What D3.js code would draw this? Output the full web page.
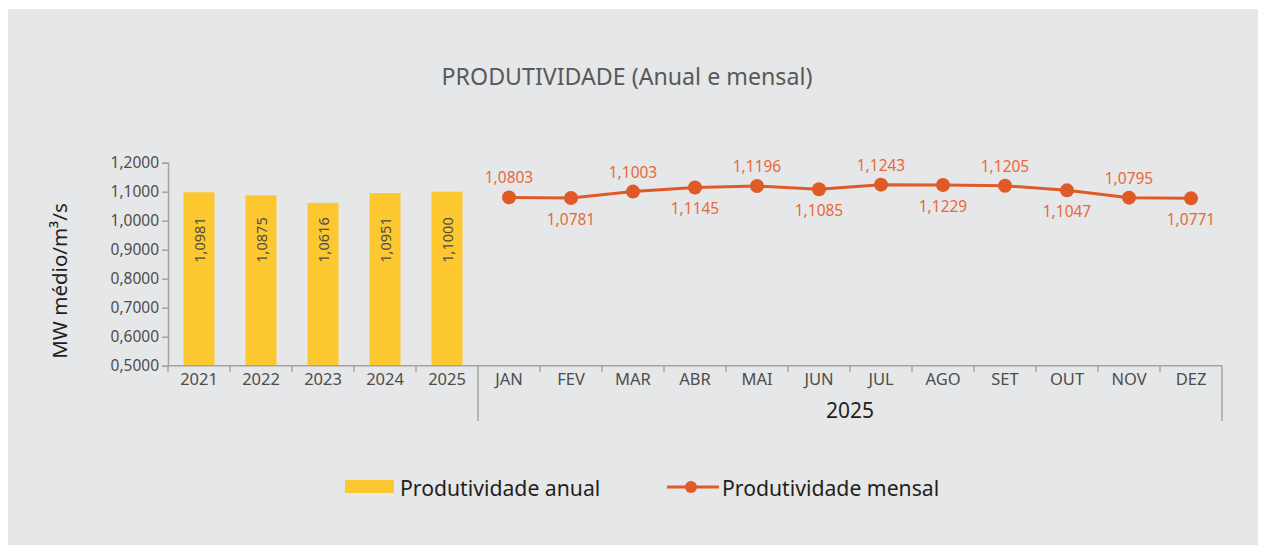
<!DOCTYPE html>
<html>
<head>
    <meta charset="utf-8">
    <script src="https://cdnjs.cloudflare.com/ajax/libs/d3/7.8.5/d3.min.js"></script>
    <style>
        body { margin: 0; background: #ffffff; }
        svg { display: block; font-family: "Noto Sans", sans-serif; }
        .tick-label { fill: #4d4d4d; }
    </style>
</head>
<body>
    <svg id="chart" width="1261" height="547"></svg>

    <script>
        // Data
        const years = ["2021", "2022", "2023", "2024", "2025"];
        const annualValues = [1.0981, 1.0875, 1.0616, 1.0951, 1.1000];
        const months = ["JAN", "FEV", "MAR", "ABR", "MAI", "JUN", "JUL", "AGO", "SET", "OUT", "NOV", "DEZ"];
        const monthlyValues = [1.0803, 1.0781, 1.1003, 1.1145, 1.1196, 1.1085, 1.1243, 1.1229, 1.1205, 1.1047, 1.0795, 1.0771];
        const monthGroupLabel = "2025";
        const yTicks = [0.5, 0.6, 0.7, 0.8, 0.9, 1.0, 1.1, 1.2];

        const barColor = "#fdc82f";
        const lineColor = "#e05a28";
        const axisColor = "#a3a3a3";

        const fmt = v => d3.format(".4f")(v).replace(".", ",");

        const svg = d3.select("#chart");

        // Panel background
        svg.append("rect")
            .attr("x", 8).attr("y", 9)
            .attr("width", 1250).attr("height", 536)
            .attr("fill", "#e6e7e8");

        // Title
        svg.append("text")
            .attr("x", 627).attr("y", 85)
            .attr("text-anchor", "middle")
            .attr("font-size", 23.2)
            .attr("fill", "#58595b")
            .text("PRODUTIVIDADE (Anual e mensal)");

        // Scales
        const keys = years.map(d => "Y" + d).concat(months.map(d => "M" + d));
        const x = d3.scaleBand()
            .domain(keys)
            .range([168, 1222])
            .paddingInner(0.5)
            .paddingOuter(0.25);

        const y = d3.scaleLinear()
            .domain([0.5, 1.2])
            .range([365.7, 162.7]);

        // Y axis
        const yAxis = svg.append("g")
            .attr("transform", "translate(168,0)")
            .call(d3.axisLeft(y).tickValues(yTicks).tickSize(6).tickPadding(3).tickFormat(fmt));
        yAxis.select(".domain").attr("stroke", axisColor).attr("stroke-width", 1.5);
        yAxis.selectAll(".tick line").attr("stroke", axisColor).attr("stroke-width", 1.5);
        yAxis.selectAll(".tick text")
            .attr("class", "tick-label")
            .attr("font-size", 15.5)
            .attr("font-family", "Noto Sans, sans-serif");

        // Y label
        svg.append("text")
            .attr("transform", "translate(67,281) rotate(-90)")
            .attr("text-anchor", "middle")
            .attr("font-size", 20.5)
            .attr("fill", "#231f20")
            .text("MW médio/m³/s");

        // Bars
        const barData = years.map((d, i) => ({ key: "Y" + d, value: annualValues[i] }));
        svg.append("g").selectAll("rect")
            .data(barData)
            .join("rect")
            .attr("x", d => x(d.key))
            .attr("y", d => y(d.value))
            .attr("width", x.bandwidth())
            .attr("height", d => y(0.5) - y(d.value))
            .attr("fill", barColor);

        svg.append("g").selectAll("text")
            .data(barData)
            .join("text")
            .attr("transform", d => `translate(${x(d.key) + x.bandwidth() / 2},240) rotate(-90)`)
            .attr("text-anchor", "middle")
            .attr("dominant-baseline", "central")
            .attr("font-size", 14.5)
            .attr("fill", "#4d4d4d")
            .text(d => fmt(d.value));

        // X axis: category labels
        const xAxis = svg.append("g")
            .attr("transform", `translate(0,${y(0.5)})`)
            .call(d3.axisBottom(x).tickSize(0).tickPadding(8)
                .tickFormat(k => k.slice(1)));
        xAxis.select(".domain").remove();
        xAxis.selectAll(".tick text")
            .attr("class", "tick-label")
            .attr("font-size", 16.5)
            .attr("font-family", "Noto Sans, sans-serif");

        // Baseline and category boundaries
        const gap = (x.step() - x.bandwidth()) / 2;
        const boundaries = keys.map(k => x(k) - gap).concat([x(keys[keys.length - 1]) + x.bandwidth() + gap]);
        const base = y(0.5);
        svg.append("line")
            .attr("x1", boundaries[0]).attr("x2", boundaries[boundaries.length - 1])
            .attr("y1", base).attr("y2", base)
            .attr("stroke", axisColor).attr("stroke-width", 1.5);
        svg.append("g").selectAll("line")
            .data(boundaries)
            .join("line")
            .attr("x1", d => d).attr("x2", d => d)
            .attr("y1", base)
            .attr("y2", (d, i) => (i === years.length || i === boundaries.length - 1) ? 421 : base + 6)
            .attr("stroke", axisColor).attr("stroke-width", 1.5);

        // Group label for months
        svg.append("text")
            .attr("x", (boundaries[years.length] + boundaries[boundaries.length - 1]) / 2)
            .attr("y", 418)
            .attr("text-anchor", "middle")
            .attr("font-size", 21)
            .attr("fill", "#231f20")
            .text(monthGroupLabel);

        // Monthly line
        const lineData = months.map((d, i) => ({ key: "M" + d, value: monthlyValues[i], i: i }));
        const cx = d => x(d.key) + x.bandwidth() / 2;
        svg.append("path")
            .datum(lineData)
            .attr("d", d3.line().x(cx).y(d => y(d.value)))
            .attr("fill", "none")
            .attr("stroke", lineColor)
            .attr("stroke-width", 3);

        svg.append("g").selectAll("circle")
            .data(lineData)
            .join("circle")
            .attr("cx", cx)
            .attr("cy", d => y(d.value))
            .attr("r", 7)
            .attr("fill", lineColor);

        svg.append("g").selectAll("text")
            .data(lineData)
            .join("text")
            .attr("x", cx)
            .attr("y", d => d.i % 2 === 0 ? y(d.value) - 14 : y(d.value) + 27)
            .attr("text-anchor", "middle")
            .attr("font-size", 15.5)
            .attr("fill", "#e8683c")
            .text(d => fmt(d.value));

        // Legend
        const legend = svg.append("g");
        legend.append("rect")
            .attr("x", 345).attr("y", 480)
            .attr("width", 49).attr("height", 13)
            .attr("fill", barColor);
        legend.append("text")
            .attr("x", 400).attr("y", 496)
            .attr("font-size", 21.2)
            .attr("fill", "#231f20")
            .text("Produtividade anual");

        legend.append("line")
            .attr("x1", 667).attr("x2", 719)
            .attr("y1", 487).attr("y2", 487)
            .attr("stroke", lineColor).attr("stroke-width", 3);
        legend.append("circle")
            .attr("cx", 691).attr("cy", 487).attr("r", 6)
            .attr("fill", lineColor);
        legend.append("text")
            .attr("x", 722).attr("y", 496)
            .attr("font-size", 21.2)
            .attr("fill", "#231f20")
            .text("Produtividade mensal");
    </script>
</body>
</html>
